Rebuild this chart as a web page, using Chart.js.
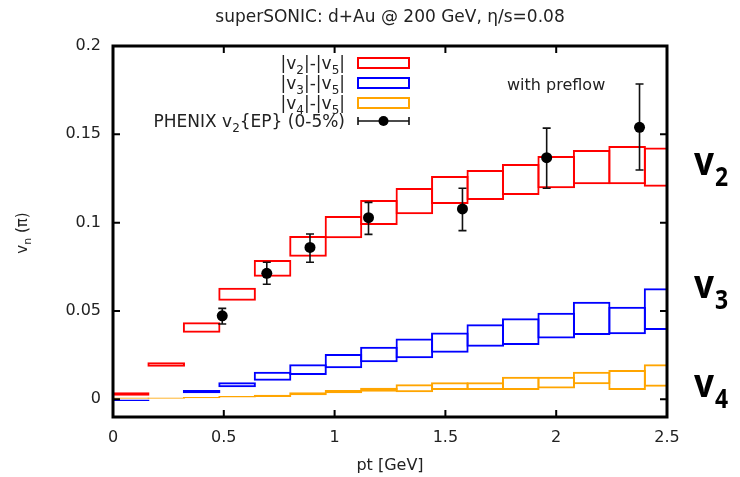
<!DOCTYPE html>
<html>
<head>
<meta charset="utf-8">
<script src="https://cdn.jsdelivr.net/npm/chart.js@4.4.0/dist/chart.umd.min.js"></script>
<style>
  html, body { margin: 0; padding: 0; background: #fff; }
  #wrap { width: 740px; height: 477px; }
</style>
</head>
<body>
<div id="wrap"><canvas id="chart" width="740" height="477"></canvas></div>
<script>
// pt bin centres, bins are 0.16 GeV wide
const binCenters = [0.08, 0.24, 0.40, 0.56, 0.72, 0.88, 1.04, 1.20, 1.36, 1.52, 1.68, 1.84, 2.00, 2.16, 2.32, 2.48];

// superSONIC bands: lower / upper edge of each box
const v2Lo = [0.0020, 0.0185, 0.0377, 0.0558, 0.0694, 0.0807, 0.0912, 0.0987, 0.1048, 0.1106, 0.1129, 0.1157, 0.1195, 0.1217, 0.1217, 0.1204];
const v2Hi = [0.0040, 0.0210, 0.0436, 0.0632, 0.0789, 0.0925, 0.1038, 0.1129, 0.1196, 0.1264, 0.1298, 0.1332, 0.1378, 0.1412, 0.1434, 0.1425];
const v3Lo = [-0.0009, null, 0.0034, 0.0068, 0.0105, 0.0138, 0.0176, 0.0210, 0.0232, 0.0264, 0.0298, 0.0307, 0.0345, 0.0364, 0.0368, 0.0392];
const v3Hi = [-0.0001, null, 0.0053, 0.0096, 0.0156, 0.0198, 0.0257, 0.0298, 0.0345, 0.0379, 0.0425, 0.0459, 0.0490, 0.0553, 0.0524, 0.0629];
const v4Lo = [0.0003, 0.0004, 0.0006, 0.0011, 0.0013, 0.0023, 0.0034, 0.0043, 0.0040, 0.0053, 0.0053, 0.0053, 0.0062, 0.0085, 0.0053, 0.0071];
const v4Hi = [0.0010, 0.0011, 0.0013, 0.0019, 0.0026, 0.0040, 0.0053, 0.0066, 0.0085, 0.0096, 0.0096, 0.0128, 0.0128, 0.0156, 0.0166, 0.0198];

// PHENIX v2{EP} (0-5%)
const phenixPt = [0.493, 0.694, 0.889, 1.153, 1.577, 1.957, 2.376];
const phenixV2 = [0.0473, 0.0713, 0.0860, 0.1028, 0.1078, 0.1368, 0.1540];
const phenixErrLo = [0.0426, 0.0651, 0.0776, 0.0934, 0.0955, 0.1195, 0.1298];
const phenixErrHi = [0.0515, 0.0776, 0.0936, 0.1115, 0.1195, 0.1535, 0.1785];

const xTicks = [0, 0.5, 1, 1.5, 2, 2.5];
const xTickLabels = ['0', '0.5', '1', '1.5', '2', '2.5'];
const yTicks = [0, 0.05, 0.1, 0.15, 0.2];
const yTickLabels = ['0', '0.05', '0.1', '0.15', '0.2'];

const FONT = 'DejaVu Sans';
const TEXT = '#222';

function band(label, lo, hi, color, order) {
    return {
        label: label,
        order: order,
        data: binCenters
            .map((x, i) => ({ x: x, y: [lo[i], hi[i]] }))
            .filter(d => d.y[0] !== null),
        backgroundColor: 'rgba(0,0,0,0)',
        borderColor: color,
        borderWidth: 2,
        borderSkipped: false,
        barPercentage: 1.06,
        categoryPercentage: 1,
        grouped: false,
        clip: 0
    };
}

// draw text made of normal and subscript pieces
function richWidth(ctx, parts, size, subSize) {
    let w = 0;
    parts.forEach(p => {
        ctx.font = (p[1] ? subSize : size) + 'px "' + FONT + '"';
        w += ctx.measureText(p[0]).width;
    });
    return w;
}
function drawRich(ctx, parts, x, y, size, subSize, subDrop) {
    ctx.textAlign = 'left';
    ctx.textBaseline = 'alphabetic';
    parts.forEach(p => {
        ctx.font = (p[1] ? subSize : size) + 'px "' + FONT + '"';
        ctx.fillText(p[0], x, p[1] ? y + subDrop : y);
        x += ctx.measureText(p[0]).width;
    });
}

const errorBars = {
    id: 'errorBars',
    beforeDatasetDraw(chart, args) {
        if (args.meta.type !== 'scatter') return;
        const { ctx, scales: { x, y } } = chart;
        ctx.save();
        ctx.strokeStyle = '#111';
        ctx.lineWidth = 1.6;
        phenixPt.forEach((pt, i) => {
            const px = x.getPixelForValue(pt);
            const lo = y.getPixelForValue(phenixErrLo[i]);
            const hi = y.getPixelForValue(phenixErrHi[i]);
            ctx.beginPath();
            ctx.moveTo(px, lo); ctx.lineTo(px, hi);
            ctx.moveTo(px - 4, lo); ctx.lineTo(px + 4, lo);
            ctx.moveTo(px - 4, hi); ctx.lineTo(px + 4, hi);
            ctx.stroke();
        });
        ctx.restore();
    }
};

const frame = {
    id: 'frame',
    afterDraw(chart) {
        const { ctx, chartArea: a, scales: { x, y } } = chart;
        ctx.save();
        ctx.strokeStyle = '#000';
        ctx.lineWidth = 2;
        ctx.beginPath();
        xTicks.forEach(v => {
            const px = x.getPixelForValue(v);
            ctx.moveTo(px, a.bottom); ctx.lineTo(px, a.bottom - 7);
            ctx.moveTo(px, a.top); ctx.lineTo(px, a.top + 7);
        });
        yTicks.forEach(v => {
            const py = y.getPixelForValue(v);
            ctx.moveTo(a.left, py); ctx.lineTo(a.left + 7, py);
            ctx.moveTo(a.right, py); ctx.lineTo(a.right - 7, py);
        });
        ctx.stroke();
        ctx.lineWidth = 3;
        ctx.strokeRect(a.left, a.top, a.right - a.left, a.bottom - a.top);
        ctx.restore();
    }
};

const labels = {
    id: 'labels',
    afterDraw(chart) {
        const { ctx, chartArea: a } = chart;
        ctx.save();
        ctx.fillStyle = TEXT;

        // title
        ctx.font = '17px "' + FONT + '"';
        ctx.textAlign = 'center';
        ctx.textBaseline = 'middle';
        ctx.fillText('superSONIC: d+Au @ 200 GeV, η/s=0.08', (a.left + a.right) / 2, 18);

        // x axis title
        ctx.font = '16px "' + FONT + '"';
        ctx.fillText('pt [GeV]', (a.left + a.right) / 2, 466);

        // y axis title, rotated
        const yParts = [['v', 0], ['n', 1], [' (π)', 0]];
        ctx.save();
        ctx.translate(27, 233);
        ctx.rotate(-Math.PI / 2);
        const yw = richWidth(ctx, yParts, 15, 11);
        drawRich(ctx, yParts, -yw / 2, 0, 15, 11, 4);
        ctx.restore();

        // legend
        const rows = [
            { parts: [['|v', 0], ['2', 1], ['|-|v', 0], ['5', 1], ['|', 0]], color: '#ff0000', y: 63 },
            { parts: [['|v', 0], ['3', 1], ['|-|v', 0], ['5', 1], ['|', 0]], color: '#0000ff', y: 83 },
            { parts: [['|v', 0], ['4', 1], ['|-|v', 0], ['5', 1], ['|', 0]], color: '#ffa500', y: 103 },
            { parts: [['PHENIX v', 0], ['2', 1], ['{EP} (0-5%)', 0]], color: null, y: 121 }
        ];
        rows.forEach(r => {
            const w = richWidth(ctx, r.parts, 17, 12);
            ctx.fillStyle = TEXT;
            drawRich(ctx, r.parts, 345 - w, r.y + 6, 17, 12, 5);
            if (r.color) {
                ctx.strokeStyle = r.color;
                ctx.lineWidth = 2;
                ctx.strokeRect(358, r.y - 5, 51, 10);
            } else {
                ctx.strokeStyle = '#111';
                ctx.lineWidth = 1.6;
                ctx.beginPath();
                ctx.moveTo(358, r.y); ctx.lineTo(409, r.y);
                ctx.moveTo(358, r.y - 4); ctx.lineTo(358, r.y + 4);
                ctx.moveTo(409, r.y - 4); ctx.lineTo(409, r.y + 4);
                ctx.stroke();
                ctx.fillStyle = '#000';
                ctx.beginPath();
                ctx.arc(383.5, r.y, 5, 0, Math.PI * 2);
                ctx.fill();
            }
        });

        // annotation
        ctx.fillStyle = TEXT;
        ctx.font = '16px "' + FONT + '"';
        ctx.textAlign = 'left';
        ctx.textBaseline = 'middle';
        ctx.fillText('with preflow', 507, 86);

        // band names at the right
        const tags = [['2', 175], ['3', 298], ['4', 397]];
        ctx.fillStyle = '#000';
        ctx.textBaseline = 'alphabetic';
        tags.forEach(t => {
            ctx.save();
            ctx.translate(694, t[1]);
            ctx.scale(0.88, 1);
            ctx.font = 'bold 40px "Open Sans"';
            ctx.fillText('v', 0, 0);
            const vw = ctx.measureText('v').width;
            ctx.font = 'bold 26px "Open Sans"';
            ctx.fillText(t[0], vw + 1, 11);
            ctx.restore();
        });
        ctx.restore();
    }
};

const ctx = document.getElementById('chart').getContext('2d');
new Chart(ctx, {
    type: 'bar',
    data: {
        datasets: [
            {
                type: 'scatter',
                label: 'PHENIX v2{EP} (0-5%)',
                order: 0,
                data: phenixPt.map((x, i) => ({ x: x, y: phenixV2[i] })),
                pointRadius: 5.5,
                pointBackgroundColor: '#000',
                pointBorderColor: '#000',
                pointBorderWidth: 0
            },
            band('|v2|-|v5|', v2Lo, v2Hi, '#ff0000', 1),
            band('|v3|-|v5|', v3Lo, v3Hi, '#0000ff', 2),
            band('|v4|-|v5|', v4Lo, v4Hi, '#ffa500', 3)
        ]
    },
    options: {
        responsive: false,
        animation: false,
        events: [],
        layout: { padding: { top: 46, right: 73, bottom: 0, left: 0 } },
        plugins: {
            legend: { display: false },
            tooltip: { enabled: false }
        },
        scales: {
            x: {
                type: 'linear',
                min: 0,
                max: 2.5,
                offset: false,
                grid: { display: false, drawTicks: false },
                border: { display: false },
                afterBuildTicks: s => { s.ticks = xTicks.map(v => ({ value: v })); },
                afterFit: s => { s.height = 60; },
                ticks: {
                    padding: 11,
                    color: TEXT,
                    autoSkip: false,
                    maxRotation: 0,
                    font: { family: FONT, size: 16 },
                    callback: (v, i) => xTickLabels[i]
                }
            },
            y: {
                type: 'linear',
                min: -0.01,
                max: 0.2,
                grid: { display: false, drawTicks: false },
                border: { display: false },
                afterBuildTicks: s => { s.ticks = yTicks.map(v => ({ value: v })); },
                afterFit: s => { s.width = 113; },
                ticks: {
                    padding: 12,
                    color: TEXT,
                    autoSkip: false,
                    font: { family: FONT, size: 16 },
                    callback: (v, i) => yTickLabels[i]
                }
            }
        }
    },
    plugins: [errorBars, frame, labels]
});
</script>
</body>
</html>
